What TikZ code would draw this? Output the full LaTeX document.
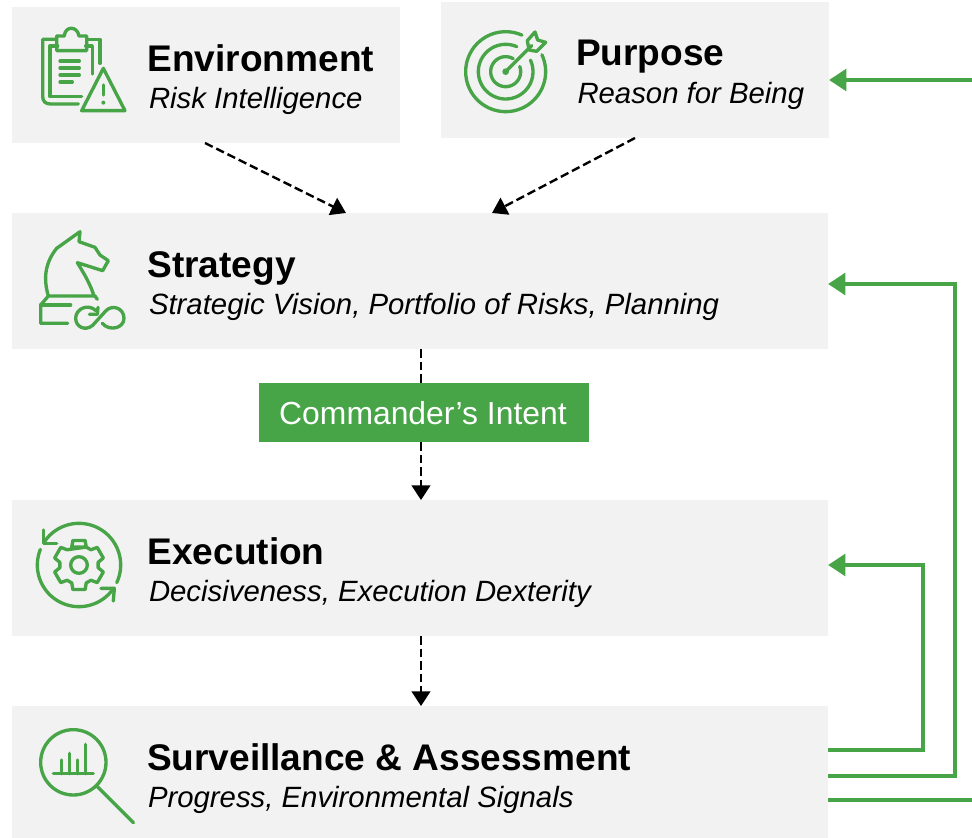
\documentclass[tikz,border=0pt]{standalone}
\usepackage{fontspec}
\setmainfont{Liberation Sans}
\usetikzlibrary{arrows.meta,calc}
\definecolor{grn}{HTML}{47A447}
\definecolor{panel}{HTML}{F2F2F2}
\newcommand{\iconarc}[5]{\draw plot[smooth,domain=#4:#5,samples=60,variable=\t] ({#1+#2*cos(\t)},{#3-#2*sin(\t)});}
\tikzset{
 box/.style={fill=panel,draw=none,inner sep=0pt,outer sep=0pt,anchor=north west},
 head/.style={anchor=base west,inner sep=0pt,outer sep=0pt,font=\fontsize{27.8pt}{30pt}\selectfont\bfseries},
 sub/.style={anchor=base west,inner sep=0pt,outer sep=0pt,font=\fontsize{22pt}{24pt}\selectfont\itshape},
 flow/.style={draw=black,line width=1.8pt,dash pattern=on 6.4pt off 3pt,-{Triangle[length=11pt,width=14pt]}},
 back/.style={draw=grn,line width=3.6pt,miter limit=10},
 backarrow/.style={back,-{Triangle[length=13pt,width=16pt]}},
 icon/.style={x=0.25pt,y=-0.25pt,draw=grn,line width=2.5pt,line cap=round,line join=round},
}
\begin{document}
\begin{tikzpicture}[x=0.75pt,y=-0.75pt]
\useasboundingbox (0,0) rectangle (972,838);
% boxes
\node[box,minimum width=291pt,minimum height=102pt] (env) at (12,7) {};
\node[box,minimum width=291pt,minimum height=102pt] (purpose) at (441,2) {};
\node[box,minimum width=612pt,minimum height=102pt] (strategy) at (12,213) {};
\node[box,minimum width=612pt,minimum height=102pt] (execution) at (12,500) {};
\node[box,minimum width=612pt,minimum height=99pt] (surv) at (12,706) {};
\node[box,fill=grn,minimum width=247.5pt,minimum height=44.25pt] (intent) at (259,383) {};
\node[anchor=base,inner sep=0pt,text=white,font=\fontsize{23.9pt}{26pt}\selectfont] (intenttext) at (423,424) {Commander’s Intent};
% texts
\node[head] (t1) at (147.5,71.5) {Environment};
\node[sub] (s1) at (149,108.5) {Risk Intelligence};
\node[head] (t2) at (576,66) {Purpose};
\node[sub] (s2) at (577.5,103.5) {Reason for Being};
\node[head] (t3) at (147.5,277) {Strategy};
\node[sub] (s3) at (149,314.5) {Strategic Vision, Portfolio of Risks, Planning};
\node[head] (t4) at (147.5,564) {Execution};
\node[sub] (s4) at (149,601.5) {Decisiveness, Execution Dexterity};
\node[head] (t5) at (147,770) {Surveillance \& Assessment};
\node[sub] (s5) at (148,807.5) {Progress, Environmental Signals};
% guide coordinates
\coordinate (xa) at (205,0); \coordinate (xb) at (346,0);
\coordinate (xc) at (635,0); \coordinate (xd) at (492,0);
\coordinate (xm) at (421,0);
\coordinate (xr1) at (923,0); \coordinate (xr2) at (955,0);
\coordinate (freeP) at (972,80); \coordinate (freeS) at (972,800);
\coordinate (y1) at (0,750); \coordinate (y2) at (0,776);
\coordinate (y3) at (0,565); \coordinate (y4) at (0,284);
% dashed flows
\draw[flow] (env.south -| xa) -- (strategy.north -| xb);
\draw[flow] (purpose.south -| xc) -- (strategy.north -| xd);
\draw[flow,-] (strategy.south -| xm) -- (intent.north -| xm);
\draw[flow] (intent.south -| xm) -- (execution.north -| xm);
\draw[flow] (execution.south -| xm) -- (surv.north -| xm);
% feedback
\draw[backarrow] (freeP) -- (purpose.east |- freeP);
\draw[back] (surv.east |- freeS) -- (freeS);
\draw[backarrow] (surv.east |- y2) -- (xr2 |- y2) -- (xr2 |- y4) -- (strategy.east |- y4);
\draw[backarrow] (surv.east |- y1) -- (xr1 |- y1) -- (xr1 |- y3) -- (execution.east |- y3);
% clipboard icon
\begin{scope}[shift={(20,10)},icon]
\draw (240,160)--(240,88)--(200,88);
\draw (110,88)--(68,88)--(68,258) .. controls (68,274) and (76,282) .. (92,282)--(175,282);
\draw (217,192)--(217,108)--(197,108);
\draw (113,108)--(90,108)--(90,260)--(185,260);
\draw (110,122)--(110,78)--(133,78) .. controls (135,47) and (172,47) .. (177,78)--(200,78)--(200,122)--cycle;
\draw (120,153)--(178,153) (120,174)--(178,174) (120,195)--(178,195) (120,216)--(157,216);
\draw (250,175)--(315,302)--(185,302)--cycle;
\draw (250,225)--(250,255);
\fill[grn] (250,278) circle[radius=6];
\end{scope}
% target icon
\begin{scope}[shift={(450,10)},icon]
\iconarc{167}{120}{185}{66}{385}
\iconarc{167}{82}{185}{66}{385}
\iconarc{167}{45}{185}{60}{380}
\draw (167,185)--(245,107);
\fill[grn] (167,185) circle[radius=10];
\draw (232,92)--(255,66)--(263,90)--(287,97)--(260,124)--(237,120)--cycle;
\end{scope}
% knight icon
\begin{scope}[shift={(20,220)},icon]
\draw (85,228) .. controls (68,170) and (78,125) .. (110,85) -- (180,35) -- (177,65) -- (225,82) -- (240,105) -- (265,122) -- (248,152) -- (172,128) .. controls (195,165) and (212,195) .. (222,228);
\draw (232,238)--(225,228)--(85,228)--(62,255)--(62,310)--(143,310);
\draw (62,255)--(152,255);
\draw (247,310) .. controls (268,335) and (312,325) .. (312,295) .. controls (312,265) and (278,252) .. (258,272) -- (218,316) .. controls (195,335) and (167,320) .. (167,295) .. controls (167,265) and (205,250) .. (228,272);
\draw (234,262)--(232,283)--(208,283);
\end{scope}
% gear icon
\begin{scope}[shift={(20,510)},icon]
\iconarc{177}{125}{165}{-25}{145}
\iconarc{177}{125}{165}{158}{326}
\draw (70,60)--(70,100)--(110,100);
\draw (243,235)--(283,235)--(280,273);
\draw (177,165) circle[radius=25];
\draw ({177+58*cos(68)},{165-58*sin(68)})
 \foreach \a in {90,30,-30,-90,-150,-210} {
 -- ({177+58*cos(\a+22)},{165-58*sin(\a+22)})
 -- ({177+76*cos(\a+14)},{165-76*sin(\a+14)})
 -- ({177+76*cos(\a-14)},{165-76*sin(\a-14)})
 -- ({177+58*cos(\a-22)},{165-58*sin(\a-22)})
 } -- cycle;
\end{scope}
% magnifier icon
\begin{scope}[shift={(20,715)},icon]
\draw (160,142) circle[radius=98];
\draw (232,215)--(340,323);
\draw (100,176)--(220,176);
\draw (124,176)--(124,135) (148,176)--(148,115) (172,176)--(172,135) (196,176)--(196,88);
\end{scope}
\end{tikzpicture}
\end{document}
